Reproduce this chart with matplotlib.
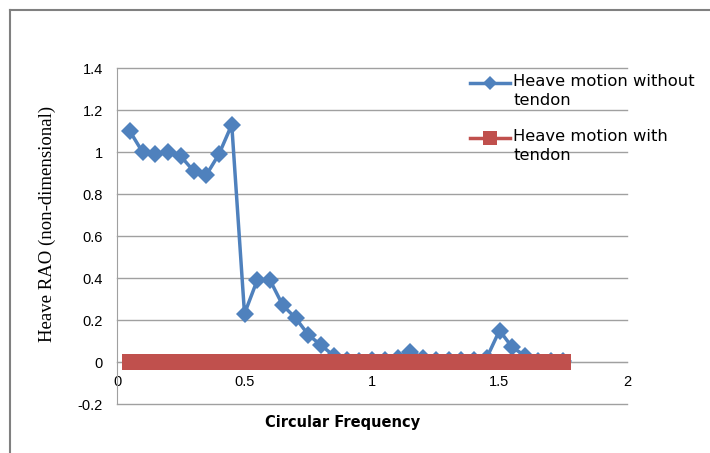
import matplotlib
matplotlib.use("Agg")
import matplotlib.pyplot as plt
from matplotlib.lines import Line2D

freq = [0.05, 0.10, 0.15, 0.20, 0.25, 0.30, 0.35, 0.40, 0.45, 0.50,
        0.55, 0.60, 0.65, 0.70, 0.75, 0.80, 0.85, 0.90, 0.95, 1.00,
        1.05, 1.10, 1.15, 1.20, 1.25, 1.30, 1.35, 1.40, 1.45, 1.50,
        1.55, 1.60, 1.65, 1.70, 1.75]
without_tendon = [1.10, 1.00, 0.99, 1.00, 0.98, 0.91, 0.89, 0.99, 1.13, 0.23,
                  0.39, 0.39, 0.27, 0.21, 0.13, 0.08, 0.03, 0.01, 0.005, 0.01,
                  0.01, 0.02, 0.05, 0.02, 0.01, 0.01, 0.01, 0.01, 0.02, 0.15,
                  0.07, 0.03, 0.005, 0.005, 0.005]
with_tendon = [0.0] * len(freq)
x_ticks = [0, 0.5, 1, 1.5, 2]
x_tick_labels = ["0", "0.5", "1", "1.5", "2"]
y_ticks = [-0.2, 0, 0.2, 0.4, 0.6, 0.8, 1, 1.2, 1.4]
y_tick_labels = ["-0.2", "0", "0.2", "0.4", "0.6", "0.8", "1", "1.2", "1.4"]
series_names = ["Heave motion without\ntendon", "Heave motion with\ntendon"]

blue = "#4F81BD"
red = "#C0504D"

fig = plt.figure(figsize=(7.10, 4.53), dpi=100)
ax = fig.add_axes([117/710, 1-404/453, (627-117)/710, (404-68)/453])

ax.set_xlim(0, 2)
ax.set_ylim(-0.2, 1.4)
for y in y_ticks:
    ax.axhline(y, color="#A0A0A0", lw=1.0, zorder=1, clip_on=False)

ax.plot(freq, without_tendon, color=blue, lw=2.5, marker="D", ms=9,
        markeredgewidth=0, zorder=3)
ax.plot(freq, with_tendon, color=red, lw=2.5, marker="s", ms=11,
        markeredgewidth=0, zorder=4)

for s in ["top", "right"]:
    ax.spines[s].set_visible(False)
ax.spines["left"].set_color("#A0A0A0")
ax.spines["bottom"].set_position(("data", 0))
ax.spines["bottom"].set_color("#A0A0A0")
ax.set_xticks(x_ticks)
ax.set_xticklabels(x_tick_labels)
ax.set_yticks(y_ticks)
ax.set_yticklabels(y_tick_labels)
ax.tick_params(axis="both", length=0, labelsize=10.5, colors="#000000")
ax.tick_params(axis="x", pad=9)
ax.tick_params(axis="y", pad=10)
for lab in ax.get_xticklabels() + ax.get_yticklabels():
    lab.set_fontfamily("Liberation Sans")

fig.text(47/710, 1-224/453, "Heave RAO (non-dimensional)", rotation=90,
         ha="center", va="center", fontfamily="Liberation Serif", fontsize=13.5)
fig.text(343/710, 1-423/453, "Circular Frequency", ha="center", va="center",
         fontsize=10.5, fontweight="bold", fontfamily="DejaVu Sans")

# legend (manual, overlapping plot area like the original)
leg_y = [83, 138]
colors = [blue, red]
markers = ["D", "s"]
msz = [7, 10]
for name, yy, c, m, ms in zip(series_names, leg_y, colors, markers, msz):
    fig.add_artist(Line2D([470/710, 510/710], [1-yy/453, 1-yy/453], color=c, lw=2.5,
                          transform=fig.transFigure, zorder=5))
    fig.add_artist(Line2D([490/710], [1-yy/453], color=c, marker=m, ms=ms,
                          markeredgewidth=0, transform=fig.transFigure, zorder=6))
    fig.text(513/710, 1-(yy-9)/453, name, ha="left", va="top", fontsize=11.8,
             fontfamily="DejaVu Sans", linespacing=1.3, zorder=7)

# outer frame lines (top and left)
fig.add_artist(Line2D([10/710, 1], [1-10/453, 1-10/453], color="#808080", lw=1.5,
                      transform=fig.transFigure))
fig.add_artist(Line2D([10/710, 10/710], [1-10/453, 0], color="#808080", lw=1.5,
                      transform=fig.transFigure))

fig.savefig("out.png", dpi=100)
